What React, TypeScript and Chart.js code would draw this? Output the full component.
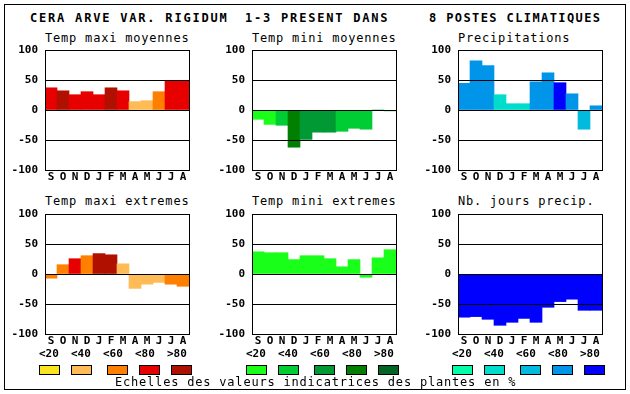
import React, { useEffect, useRef } from 'react';
import { Chart, registerables } from 'chart.js';

Chart.register(...registerables);

// ---------- data ----------
const months = ['S', 'O', 'N', 'D', 'J', 'F', 'M', 'A', 'M', 'J', 'J', 'A'];
const yTickValues = [-100, -50, 0, 50, 100];
const legendLabels = ['<20', '<40', '<60', '<80', '>80'];

const mainTitleParts = ['CERA ARVE VAR. RIGIDUM', '1-3 PRESENT DANS', '8 POSTES CLIMATIQUES'];
const noteText = 'Echelles des valeurs indicatrices des plantes en %';

const panelTitles = [
  'Temp maxi moyennes',
  'Temp mini moyennes',
  'Precipitations',
  'Temp maxi extremes',
  'Temp mini extremes',
  'Nb. jours precip.',
];

const tempMaxiMoyValues = [37, 32, 25.5, 30.5, 25.5, 37, 32, 14, 15.5, 30.5, 49.5, 49.5];
const tempMaxiMoyClasses = [3, 4, 3, 3, 3, 4, 3, 1, 1, 2, 3, 3];

const tempMiniMoyValues = [-15.5, -24, -25.5, -62, -49, -37, -37, -35.5, -30.5, -32, 0, -1.5];
const tempMiniMoyClasses = [0, 0, 1, 3, 2, 2, 2, 1, 1, 1, 1, 1];

const precipValues = [44.5, 82, 74, 25.5, 10.5, 10.5, 47, 62, 45.5, 27, -32, 7];
const precipClasses = [3, 3, 3, 1, 1, 1, 3, 3, 4, 3, 2, 3];

const tempMaxiExtValues = [-7, 15.5, 25.5, 30.5, 34, 32, 17, -24, -17, -14, -17, -20.5];
const tempMaxiExtClasses = [2, 2, 3, 2, 4, 4, 1, 1, 1, 1, 2, 2];

const tempMiniExtValues = [37, 35.5, 35.5, 24, 30.5, 30.5, 25.5, 12, 24, -5.5, 27, 40.5];
const tempMiniExtClasses = [0, 0, 0, 0, 0, 0, 0, 0, 0, 0, 0, 0];

const joursPrecipValues = [-72, -71, -75.5, -85.5, -80.5, -74, -80.5, -55.5, -46, -42, -60.5, -60.5];
const joursPrecipClasses = [4, 4, 4, 4, 4, 4, 4, 4, 4, 4, 4, 4];

const warmPalette = ['#f8e51e', '#ffbb55', '#ff8000', '#e60000', '#b01000'];
const greenPalette = ['#1aff1a', '#00cc33', '#009933', '#007f00', '#006622'];
const bluePalette = ['#00ffaa', '#00ddcc', '#00bbdd', '#0095e8', '#0000ff'];

// ---------- layout ----------
const MONO = '"DejaVu Sans Mono", monospace';
const COLS = [45, 252, 458];
const ROWS = [50, 214];
const PW = 144;
const PH = 120;
const L = 44;
const T = 14;
const R = 4;
const B = 18;

const tickFont = { family: MONO, size: 11, weight: 'bold' as const };

type PanelProps = {
  values: number[];
  classes: number[];
  palette: string[];
  x: number;
  y: number;
};

function Panel({ values, classes, palette, x, y }: PanelProps) {
  const ref = useRef<HTMLCanvasElement>(null);
  useEffect(() => {
    if (!ref.current) return;
    const boxPlugin = {
      id: 'plotBox',
      afterDraw(chart: any) {
        const { ctx, chartArea: a } = chart;
        ctx.save();
        ctx.strokeStyle = '#000';
        ctx.lineWidth = 1;
        ctx.strokeRect(
          Math.round(a.left) + 0.5,
          Math.round(a.top) + 0.5,
          Math.round(a.right - a.left),
          Math.round(a.bottom - a.top)
        );
        ctx.restore();
      },
    };
    const chart = new Chart(ref.current, {
      type: 'bar',
      data: {
        labels: months,
        datasets: [
          {
            data: values,
            backgroundColor: classes.map((c) => palette[c]),
            borderWidth: 0,
            barPercentage: 1,
            categoryPercentage: 1,
          },
        ],
      },
      options: {
        animation: false,
        responsive: false,
        devicePixelRatio: 1,
        layout: { padding: { top: T, right: R, left: 0, bottom: 0 } },
        plugins: {
          legend: { display: false },
          tooltip: { enabled: false },
          title: { display: false },
        },
        scales: {
          x: {
            grid: { display: false, drawTicks: false },
            border: { display: false },
            ticks: {
              color: '#000',
              font: tickFont,
              padding: 1,
              autoSkip: false,
              maxRotation: 0,
            },
            afterFit: (s: any) => {
              s.height = B;
            },
          },
          y: {
            min: -100,
            max: 100,
            afterBuildTicks: (s: any) => {
              s.ticks = yTickValues.map((v) => ({ value: v }));
            },
            grid: { color: '#000', lineWidth: 1, drawTicks: false, z: 1 },
            border: { display: false },
            ticks: { color: '#000', font: tickFont, padding: 7 },
            afterFit: (s: any) => {
              s.width = L;
            },
          },
        },
      } as any,
      plugins: [boxPlugin],
    });
    return () => chart.destroy();
  }, []);
  const w = L + PW + R;
  const h = T + PH + B;
  return (
    <canvas
      ref={ref}
      width={w}
      height={h}
      style={{ position: 'absolute', left: x - L, top: y - T, width: w, height: h }}
    />
  );
}

const textBase: React.CSSProperties = {
  position: 'absolute',
  fontFamily: MONO,
  color: '#000',
  whiteSpace: 'pre',
};

export default function App() {
  const panels = [
    { values: tempMaxiMoyValues, classes: tempMaxiMoyClasses, palette: warmPalette },
    { values: tempMiniMoyValues, classes: tempMiniMoyClasses, palette: greenPalette },
    { values: precipValues, classes: precipClasses, palette: bluePalette },
    { values: tempMaxiExtValues, classes: tempMaxiExtClasses, palette: warmPalette },
    { values: tempMiniExtValues, classes: tempMiniExtClasses, palette: greenPalette },
    { values: joursPrecipValues, classes: joursPrecipClasses, palette: bluePalette },
  ];
  const palettes = [warmPalette, greenPalette, bluePalette];
  const titleLefts = [30, 245, 429];
  const titleSpacing = [1.8, 1.8, 1.4];
  const labelOffsets = [0, 32, 64, 96, 128];
  const swatchOffsets = [0, 32, 68, 100, 132];
  const subtitleCenters = [37.5, 201];

  return (
    <div
      style={{
        position: 'fixed',
        left: 0,
        top: 0,
        width: 630,
        height: 394,
        background: '#fff',
        overflow: 'hidden',
      }}
    >
      <div
        style={{
          position: 'absolute',
          left: 4,
          top: 4,
          width: 620,
          height: 384,
          border: '1px solid #000',
        }}
      />
      {mainTitleParts.map((t, i) => (
        <div
          key={'mt' + i}
          style={{
            ...textBase,
            left: titleLefts[i],
            top: 11,
            fontSize: 12,
            lineHeight: '14px',
            fontWeight: 'bold',
            letterSpacing: titleSpacing[i] + 'px',
          }}
        >
          {t}
        </div>
      ))}
      {panels.map((p, i) => {
        const col = i % 3;
        const row = Math.floor(i / 3);
        return (
          <React.Fragment key={'p' + i}>
            <div
              style={{
                ...textBase,
                left: COLS[col],
                top: subtitleCenters[row] - 7,
                fontSize: 12,
                lineHeight: '14px',
                letterSpacing: '0.8px',
              }}
            >
              {panelTitles[i]}
            </div>
            <Panel
              values={p.values}
              classes={p.classes}
              palette={p.palette}
              x={COLS[col]}
              y={ROWS[row]}
            />
          </React.Fragment>
        );
      })}
      {palettes.map((pal, g) => (
        <React.Fragment key={'lg' + g}>
          {legendLabels.map((lab, k) => (
            <div
              key={'ll' + k}
              style={{
                ...textBase,
                left: COLS[g] - 6 + labelOffsets[k],
                top: 347,
                fontSize: 11,
                lineHeight: '13px',
                fontWeight: 'bold',
              }}
            >
              {lab}
            </div>
          ))}
          {pal.map((c, k) => (
            <div
              key={'ls' + k}
              style={{
                position: 'absolute',
                left: COLS[g] - 6 + swatchOffsets[k],
                top: 365,
                width: 21,
                height: 10,
                boxSizing: 'border-box',
                border: '1px solid #000',
                background: c,
              }}
            />
          ))}
        </React.Fragment>
      ))}
      <div
        style={{
          ...textBase,
          left: 115,
          top: 375,
          fontSize: 12,
          lineHeight: '14px',
          letterSpacing: '0.8px',
        }}
      >
        {noteText}
      </div>
    </div>
  );
}
